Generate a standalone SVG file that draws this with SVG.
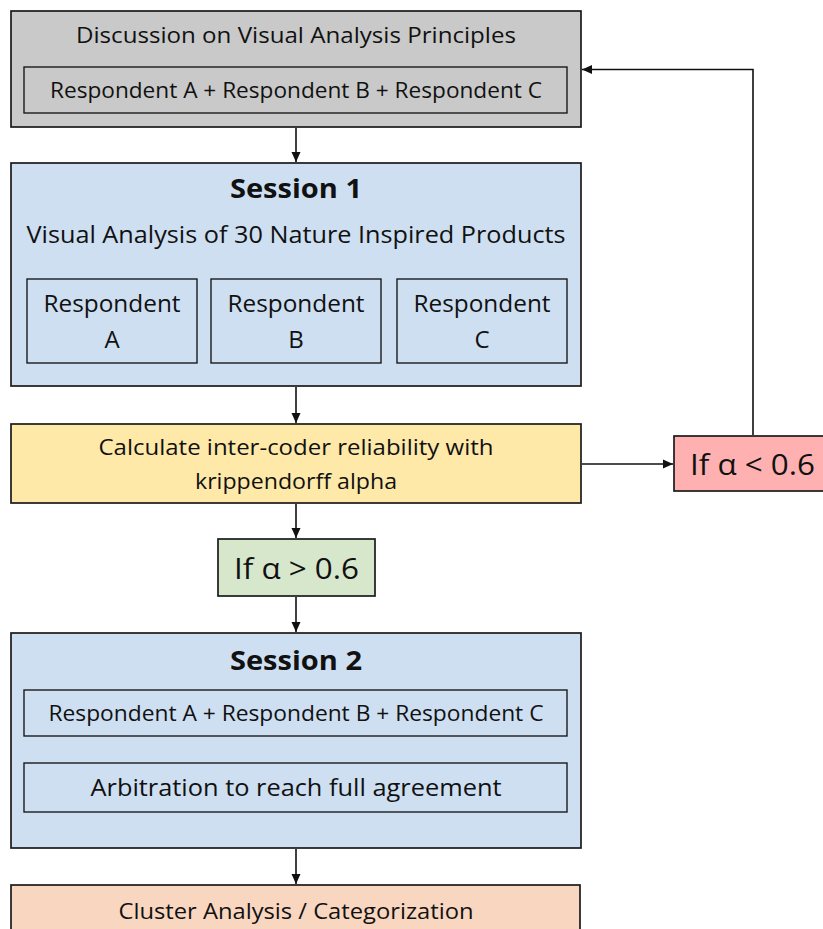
<svg xmlns="http://www.w3.org/2000/svg" width="823" height="929" viewBox="0 0 823 929">
<style>
text{font-family:"Open Sans","Noto Sans","Liberation Sans",sans-serif;fill:#111;text-anchor:middle}
.b{stroke:#1a1a1a;stroke-width:1.7}
.i{stroke:#1a1a1a;stroke-width:1.4}
.gray{fill:#c9c9c9}.blue{fill:#cddff1}.yel{fill:#ffe9a9}.red{fill:#ffb1b1}.grn{fill:#d6e7cc}.org{fill:#f9d6c0}
.t{font-weight:bold;font-size:27px}
.c{stroke:#111;stroke-width:1.6;fill:none}
</style>
<defs>
<marker id="ah" viewBox="0 0 10 10" refX="10" refY="5" markerWidth="10" markerHeight="10" markerUnits="userSpaceOnUse" orient="auto">
<path d="M0,0.5 L10,5 L0,9.5 Z" fill="#111"/>
</marker>
</defs>
<rect width="823" height="929" fill="#fff"/>
<g id="discussion">
<rect class="b gray" x="11" y="11" width="570" height="116"/>
<text x="296" y="43" font-size="21" textLength="440" lengthAdjust="spacingAndGlyphs">Discussion on Visual Analysis Principles</text>
<rect class="i gray" x="24" y="67" width="543" height="46"/>
<text x="296" y="98" font-size="22" textLength="492" lengthAdjust="spacingAndGlyphs">Respondent A + Respondent B + Respondent C</text>
</g>
<g id="session1">
<rect class="b blue" x="11" y="163" width="570" height="223"/>
<text class="t" x="296" y="198" textLength="132" lengthAdjust="spacingAndGlyphs">Session 1</text>
<text x="296" y="243" font-size="23" textLength="539" lengthAdjust="spacingAndGlyphs">Visual Analysis of 30 Nature Inspired Products</text>
<rect class="i blue" x="27" y="279" width="170" height="84"/>
<rect class="i blue" x="211" y="279" width="170" height="84"/>
<rect class="i blue" x="397" y="279" width="170" height="84"/>
<text x="112" y="312" font-size="24" textLength="137" lengthAdjust="spacingAndGlyphs">Respondent</text>
<text x="112" y="348" font-size="24">A</text>
<text x="296" y="312" font-size="24" textLength="137" lengthAdjust="spacingAndGlyphs">Respondent</text>
<text x="296" y="348" font-size="24">B</text>
<text x="482" y="312" font-size="24" textLength="137" lengthAdjust="spacingAndGlyphs">Respondent</text>
<text x="482" y="348" font-size="24">C</text>
</g>
<g id="reliability">
<rect class="b yel" x="11" y="424" width="570" height="79"/>
<text x="296" y="455" font-size="21.5" textLength="395" lengthAdjust="spacingAndGlyphs">Calculate inter-coder reliability with</text>
<text x="296" y="489" font-size="21.5" textLength="202" lengthAdjust="spacingAndGlyphs">krippendorff alpha</text>
</g>
<g id="alpha-low">
<rect class="b red" x="674" y="436" width="160" height="55"/>
<text x="752.5" y="475" font-size="29" textLength="125" lengthAdjust="spacingAndGlyphs">If α &lt; 0.6</text>
</g>
<g id="alpha-high">
<rect class="b grn" x="218" y="539" width="157" height="57"/>
<text x="296.5" y="579" font-size="29" textLength="125" lengthAdjust="spacingAndGlyphs">If α &gt; 0.6</text>
</g>
<g id="session2">
<rect class="b blue" x="11" y="633" width="570" height="215"/>
<text class="t" x="296" y="670" textLength="132" lengthAdjust="spacingAndGlyphs">Session 2</text>
<rect class="i blue" x="24" y="690" width="543" height="46"/>
<text x="296" y="721" font-size="22" textLength="495" lengthAdjust="spacingAndGlyphs">Respondent A + Respondent B + Respondent C</text>
<rect class="i blue" x="24" y="763" width="543" height="49"/>
<text x="296" y="796" font-size="23" textLength="411" lengthAdjust="spacingAndGlyphs">Arbitration to reach full agreement</text>
</g>
<g id="cluster">
<rect class="b org" x="11" y="885" width="569" height="60"/>
<text x="296" y="919" font-size="21.5" textLength="355" lengthAdjust="spacingAndGlyphs">Cluster Analysis / Categorization</text>
</g>
<g id="connectors">
<line class="c" x1="296" y1="128" x2="296" y2="162" marker-end="url(#ah)"/>
<line class="c" x1="296" y1="387" x2="296" y2="423" marker-end="url(#ah)"/>
<line class="c" x1="296" y1="504" x2="296" y2="538" marker-end="url(#ah)"/>
<line class="c" x1="296" y1="597" x2="296" y2="632" marker-end="url(#ah)"/>
<line class="c" x1="296" y1="849" x2="296" y2="884" marker-end="url(#ah)"/>
<line class="c" x1="582" y1="464" x2="673" y2="464" marker-end="url(#ah)"/>
<polyline class="c" points="753,435 753,69.5 582,69.5" marker-end="url(#ah)"/>
</g>
</svg>
